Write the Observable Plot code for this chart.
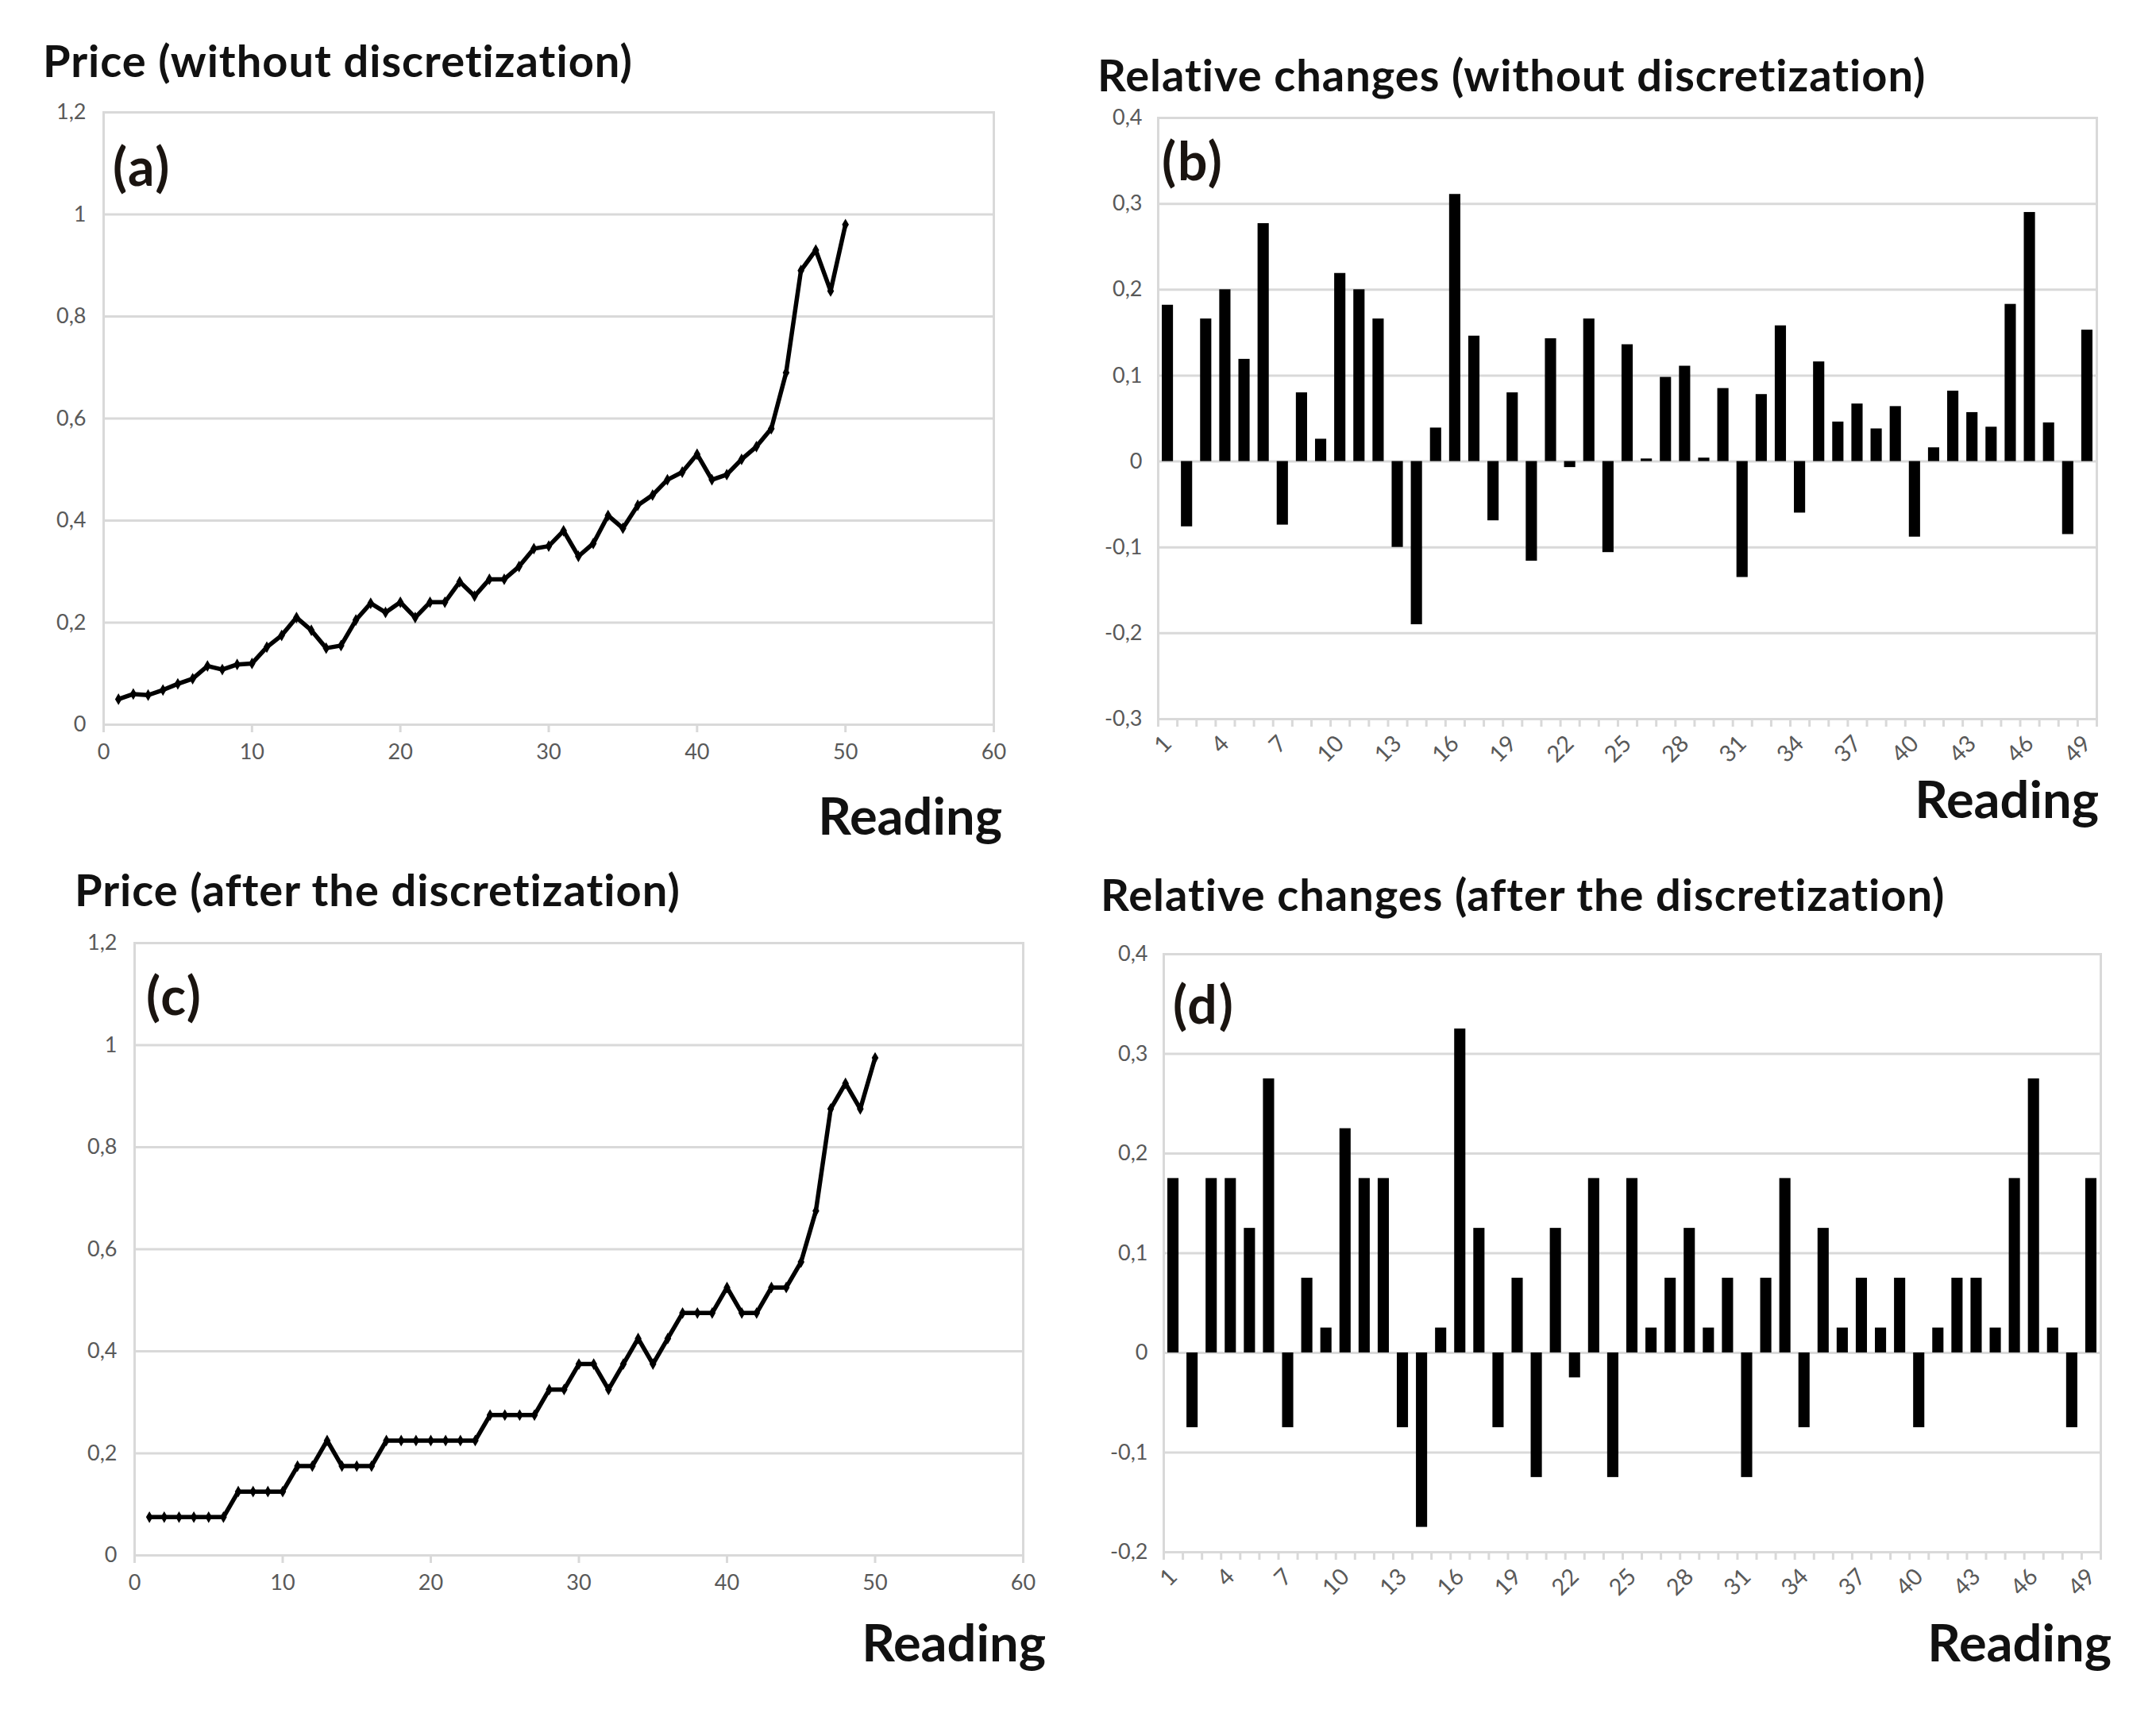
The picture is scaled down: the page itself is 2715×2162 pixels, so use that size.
<!DOCTYPE html>
<html>
<head>
<meta charset="utf-8">
<script src="https://cdn.jsdelivr.net/npm/d3@7"></script>
<script src="https://cdn.jsdelivr.net/npm/@observablehq/plot@0.6"></script>
<style>
  html, body { margin: 0; padding: 0; background: #fff; }
  body { width: 2715px; height: 2162px; position: relative; overflow: hidden; font-family: Lato, "Open Sans", sans-serif; }
  .abs { position: absolute; }
  .title { font-weight: 700; font-size: 56px; letter-spacing: 1px; color: #111; line-height: 1; white-space: nowrap; }
  .reading { font-weight: 700; font-size: 65px; color: #111; line-height: 1; white-space: nowrap; }
  .tag { font-weight: 700; font-size: 66px; letter-spacing: 2px; color: #1a1410; line-height: 1; white-space: nowrap; }
</style>
</head>
<body>
<div id="root"></div>
<script>
// ---------- DATA ----------
const readings = [1,2,3,4,5,6,7,8,9,10,11,12,13,14,15,16,17,18,19,20,21,22,23,24,25,26,27,28,29,30,31,32,33,34,35,36,37,38,39,40,41,42,43,44,45,46,47,48,49,50];
// (a) price without discretization
const priceRaw = [0.050,0.060,0.058,0.068,0.080,0.090,0.115,0.108,0.118,0.120,0.152,0.175,0.210,0.185,0.150,0.155,0.205,0.238,0.220,0.240,0.210,0.240,0.240,0.280,0.252,0.285,0.285,0.310,0.345,0.350,0.380,0.330,0.355,0.410,0.385,0.430,0.450,0.480,0.495,0.530,0.480,0.490,0.520,0.545,0.580,0.690,0.890,0.930,0.850,0.980];
// (c) price after the discretization
const priceDisc = [0.075,0.075,0.075,0.075,0.075,0.075,0.125,0.125,0.125,0.125,0.175,0.175,0.225,0.175,0.175,0.175,0.225,0.225,0.225,0.225,0.225,0.225,0.225,0.275,0.275,0.275,0.275,0.325,0.325,0.375,0.375,0.325,0.375,0.425,0.375,0.425,0.475,0.475,0.475,0.525,0.475,0.475,0.525,0.525,0.575,0.675,0.875,0.925,0.875,0.975];
// change indices
const changeIdx = [1,2,3,4,5,6,7,8,9,10,11,12,13,14,15,16,17,18,19,20,21,22,23,24,25,26,27,28,29,30,31,32,33,34,35,36,37,38,39,40,41,42,43,44,45,46,47,48,49];
// (b) relative changes without discretization
const relRaw = [0.182,-0.076,0.166,0.200,0.119,0.277,-0.074,0.080,0.026,0.219,0.200,0.166,-0.100,-0.190,0.039,0.311,0.146,-0.069,0.080,-0.116,0.143,-0.007,0.166,-0.106,0.136,0.003,0.098,0.111,0.004,0.085,-0.135,0.078,0.158,-0.060,0.116,0.046,0.067,0.038,0.064,-0.088,0.016,0.082,0.057,0.040,0.183,0.290,0.045,-0.085,0.153];
// (d) relative changes after the discretization
const relDisc = [0.175,-0.075,0.175,0.175,0.125,0.275,-0.075,0.075,0.025,0.225,0.175,0.175,-0.075,-0.175,0.025,0.325,0.125,-0.075,0.075,-0.125,0.125,-0.025,0.175,-0.125,0.175,0.025,0.075,0.125,0.025,0.075,-0.125,0.075,0.175,-0.075,0.125,0.025,0.075,0.025,0.075,-0.075,0.025,0.075,0.075,0.025,0.175,0.275,0.025,-0.075,0.175];

const priceYTicks = [0,0.2,0.4,0.6,0.8,1,1.2];
const priceXTicks = [0,10,20,30,40,50,60];
const relYTicksB = [-0.3,-0.2,-0.1,0,0.1,0.2,0.3,0.4];
const relYTicksD = [-0.2,-0.1,0,0.1,0.2,0.3,0.4];
const relXLabels = [1,4,7,10,13,16,19,22,25,28,31,34,37,40,43,46,49];

const titles = ["Price (without discretization)", "Relative changes (without discretization)", "Price (after the discretization)", "Relative changes (after the discretization)"];
const tags = ["(a)", "(b)", "(c)", "(d)"];
const xLabel = "Reading";

// ---------- HELPERS ----------
const GRID = "#d9d9d9";
const TXT = "#595959";
const fmt = v => String(Math.round(v * 10) / 10).replace(".", ",");
const root = document.getElementById("root");

function place(el, left, top) {
  el.classList.add("abs");
  el.style.left = left + "px";
  el.style.top = top + "px";
  root.appendChild(el);
  return el;
}
function textDiv(cls, txt, left, top, right) {
  const d = document.createElement("div");
  d.className = cls + " abs";
  d.textContent = txt;
  d.style.top = top + "px";
  if (right != null) d.style.right = right + "px"; else d.style.left = left + "px";
  root.appendChild(d);
}

function pricePlot(values, box) {
  const data = readings.map((r, i) => ({r, p: values[i]}));
  return Plot.plot({
    width: box.w, height: box.h,
    marginLeft: box.ml, marginRight: box.mr, marginTop: box.mt, marginBottom: box.mb,
    x: {domain: [0, 60], label: null},
    y: {domain: [0, 1.2], label: null},
    style: {fontFamily: "Lato, sans-serif", fontSize: "27px", color: TXT, background: "white", overflow: "visible"},
    marks: [
      Plot.gridY(priceYTicks, {stroke: GRID, strokeOpacity: 1, strokeWidth: 3}),
      Plot.frame({stroke: GRID, strokeWidth: 3}),
      Plot.axisY(priceYTicks, {tickSize: 0, tickPadding: 22, tickFormat: fmt, fill: TXT, label: null}),
      Plot.axisX(priceXTicks, {tickSize: 10, tickPadding: 14, stroke: GRID, strokeWidth: 3, fill: TXT, label: null}),
      Plot.line(data, {x: "r", y: "p", stroke: "black", strokeWidth: 5.5, strokeLinejoin: "miter"}),
      Plot.dot(data, {x: "r", y: "p", r: 4.5, fill: "black", symbol: "diamond"})
    ]
  });
}

function relPlot(values, yTicks, box) {
  const data = changeIdx.map((i, k) => ({i, v: values[k]}));
  const bounds = changeIdx.map(i => i - 0.5).concat([changeIdx[changeIdx.length - 1] + 0.5]);
  return Plot.plot({
    width: box.w, height: box.h,
    marginLeft: box.ml, marginRight: box.mr, marginTop: box.mt, marginBottom: box.mb,
    x: {domain: [0.5, 49.5], label: null},
    y: {domain: [yTicks[0], yTicks[yTicks.length - 1]], label: null},
    style: {fontFamily: "Lato, sans-serif", fontSize: "27px", color: TXT, background: "white", overflow: "visible"},
    marks: [
      Plot.gridY(yTicks, {stroke: GRID, strokeOpacity: 1, strokeWidth: 3}),
      Plot.frame({stroke: GRID, strokeWidth: 3}),
      Plot.axisY(yTicks, {tickSize: 0, tickPadding: 20, tickFormat: fmt, fill: TXT, label: null}),
      Plot.axisX(bounds, {tickSize: 10, tickFormat: () => "", stroke: GRID, strokeWidth: 3, label: null}),
      Plot.axisX(relXLabels, {tickSize: 0, tickPadding: 26, tickRotate: -45, fill: TXT, fontSize: 29, label: null}),
      Plot.rect(data, {x1: d => d.i - 0.5, x2: d => d.i + 0.5, y1: 0, y2: "v", fill: "black", insetLeft: 5, insetRight: 5})
    ]
  });
}

// ---------- PANELS ----------
// (a)
place(pricePlot(priceRaw, {w: 1320, h: 920, ml: 130, mr: 69, mt: 31, mb: 118}), 0, 110);
// (c)
place(pricePlot(priceDisc, {w: 1320, h: 900, ml: 149, mr: 52, mt: 37, mb: 92}), 20, 1150);
// (b)
place(relPlot(relRaw, relYTicksB, {w: 1340, h: 880, ml: 98, mr: 60, mt: 28, mb: 95}), 1360, 120);
// (d)
place(relPlot(relDisc, relYTicksD, {w: 1340, h: 880, ml: 105, mr: 55, mt: 31, mb: 96}), 1360, 1170);

// titles
textDiv("title", titles[0], 54, 48);
textDiv("title", titles[1], 1382, 66);
textDiv("title", titles[2], 94, 1092);
textDiv("title", titles[3], 1386, 1098);
// tags
textDiv("tag", tags[0], 142, 176);
textDiv("tag", tags[1], 1463, 169);
textDiv("tag", tags[2], 184, 1220);
textDiv("tag", tags[3], 1477, 1231);
// axis label
textDiv("reading", xLabel, null, 994, 1453);
textDiv("reading", xLabel, null, 973, 72);
textDiv("reading", xLabel, null, 2035, 1398);
textDiv("reading", xLabel, null, 2035, 56);
</script>
</body>
</html>
